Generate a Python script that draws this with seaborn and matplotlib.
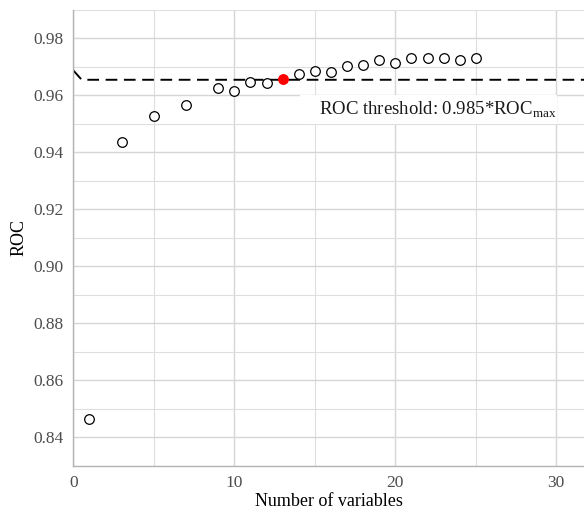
import numpy as np
import pandas as pd
import seaborn as sns
import matplotlib.pyplot as plt
from matplotlib.patches import Rectangle

# number of variables vs ROC
n_vars = [1, 3, 5, 7, 9, 10, 11, 12, 13, 14, 15, 16, 17, 18, 19, 20, 21, 22, 23, 24, 25]
roc = [0.8464, 0.9435, 0.9528, 0.9565, 0.9627, 0.9614, 0.9647, 0.9645, 0.9659,
       0.9676, 0.9685, 0.9682, 0.9702, 0.9706, 0.9723, 0.9714, 0.9733, 0.9733,
       0.9730, 0.9723, 0.9731]
best_n = 13

# threshold line
thr_x = [0, 0.52, 40]
thr_y = [0.9688, 0.9655, 0.9655]

label_txt = "ROC threshold: 0.985*ROC$_{\\mathrm{max}}$"

df = pd.DataFrame({"n": n_vars, "roc": roc})
best = df[df["n"] == best_n]
rest = df[df["n"] != best_n]

sns.set_style("white")
plt.rcParams["font.family"] = ["Liberation Serif", "DejaVu Serif"]
plt.rcParams["mathtext.fontset"] = "custom"
plt.rcParams["mathtext.rm"] = "Liberation Serif"

fig = plt.figure(figsize=(5.84, 5.12), dpi=100)
ax = fig.add_axes([73.3 / 584, 1 - 465.7 / 512, 1 - 73.3 / 584, (465.7 - 10) / 512])

ax.set_xlim(0, 31.72)
ax.set_ylim(0.830, 0.990)
ax.set_xticks([0, 10, 20, 30])
ax.set_xticks([5, 15, 25], minor=True)
ax.set_yticks(np.round(np.arange(0.84, 0.981, 0.02), 2))
ax.set_yticks(np.round(np.arange(0.83, 0.991, 0.02), 2), minor=True)
ax.yaxis.set_major_formatter(plt.FuncFormatter(lambda v, p: f"{v:.2f}"))

ax.grid(True, which="major", color="#D6D6D6", linewidth=1.0)
ax.grid(True, which="minor", color="#DEDEDE", linewidth=0.8)
ax.set_axisbelow(True)

for s in ["top", "right"]:
    ax.spines[s].set_visible(False)
for s in ["left", "bottom"]:
    ax.spines[s].set_color("#B3B3B3")
    ax.spines[s].set_linewidth(1.0)

ax.tick_params(which="major", length=4.5, width=0.8, color="#B3B3B3",
               labelsize=12.5, labelcolor="#4D4D4D", pad=2.5)
ax.tick_params(which="minor", length=0)

sns.lineplot(x=thr_x, y=thr_y, ax=ax, color="black", linewidth=1.4,
             linestyle=(0, (6, 3.4)), zorder=2, sort=False)
sns.scatterplot(data=rest, x="n", y="roc", ax=ax, s=48, facecolor="white",
                edgecolor="black", linewidth=0.9, zorder=3)
sns.scatterplot(data=best, x="n", y="roc", ax=ax, s=48, color="red",
                edgecolor="red", linewidth=0.9, zorder=4)

ax.add_patch(Rectangle((14.08, 0.9500), 15.96, 0.0103, facecolor="white",
                       edgecolor="none", zorder=2.5))
ax.text(15.26, 0.9550, label_txt, fontsize=13.5, ha="left", va="center",
        color="#1A1A1A", zorder=5)

ax.set_xlabel("Number of variables", fontsize=13, color="black", labelpad=1)
ax.set_ylabel("ROC", fontsize=13, color="black", labelpad=4)

fig.savefig("out.png", dpi=100)
